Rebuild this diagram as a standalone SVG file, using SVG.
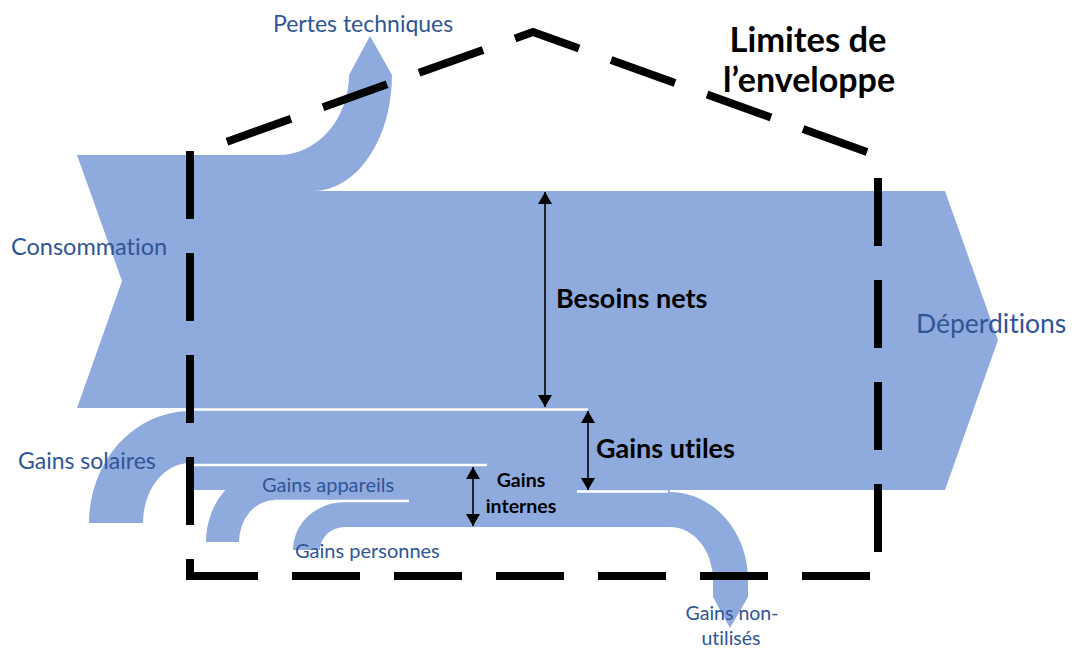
<svg xmlns="http://www.w3.org/2000/svg" width="1074" height="649" viewBox="0 0 1074 649">
  <style>
    .flow { fill: #8FAADC; }
    .gap { stroke: #FFFFFF; stroke-width: 2.5; fill: none; }
    .wall { stroke: #000000; stroke-width: 8; fill: none; stroke-dasharray: 68 34; }
    .dim { stroke: #000000; stroke-width: 1.6; fill: none; marker-start: url(#tip); marker-end: url(#tip); }
    text { font-variant-ligatures: none; }
    .lbl { font-family: Lato, "Open Sans", sans-serif; fill: #2F5597; }
    .key { font-family: Lato, "Open Sans", sans-serif; font-weight: bold; fill: #000000; }
  </style>
  <defs>
    <marker id="tip" viewBox="0 0 12 14" refX="12" refY="7" markerWidth="12" markerHeight="14" markerUnits="userSpaceOnUse" orient="auto-start-reverse">
      <path d="M0,0 L12,7 L0,14 Z" fill="#000000"/>
    </marker>
  </defs>
  <rect width="1074" height="649" fill="#FFFFFF"/>

  <!-- energy flows -->
  <g id="consommation">
    <path class="flow" d="M77,155 H290 V191 H945 L998,340 L945,490 H190 V408 H77 L122,281 Z"/>
    <text class="lbl" x="11" y="255" font-size="23.5">Consommation</text>
  </g>
  <g id="pertes-techniques">
    <path class="flow" d="M278,155 A71,80 0 0 0 349,75 L370,36 L392,75 A79,116 0 0 1 313,191 H278 Z"/>
    <text class="lbl" x="273" y="32" font-size="23">Pertes techniques</text>
  </g>
  <g id="gains-solaires">
    <path class="flow" d="M196,411 V463 H190 A47,60 0 0 0 143,523 H89 A101,112 0 0 1 190,411 Z"/>
    <text class="lbl" x="18" y="469" font-size="23">Gains solaires</text>
  </g>
  <g id="gains-internes">
    <path class="flow" d="M275,467 H670 V527 H345 V500 H275 Z"/>
  </g>
  <g id="gains-appareils">
    <path class="flow" d="M300,467 H275 A69,75 0 0 0 206,542 H239 A36,42 0 0 1 275,500 H300 Z"/>
    <text class="lbl" x="262" y="492" font-size="20">Gains appareils</text>
  </g>
  <g id="gains-personnes">
    <path class="flow" d="M360,502 H345 A52,48 0 0 0 293,550 H320 A25,23 0 0 1 345,527 H360 Z"/>
  </g>
  <g id="gains-non-utilises">
    <path class="flow" d="M600,492 H670 A78,88 0 0 1 748,580 V597 L730,628 L713,597 V580 A43,53 0 0 0 670,527 H600 Z"/>
  </g>

  <!-- separations between the flows -->
  <g id="separations">
    <path class="gap" d="M186,409.5 H588"/>
    <path class="gap" d="M190,465 H487"/>
    <path class="gap" d="M275,501 H409"/>
    <path class="gap" d="M577,491.5 H668"/>
  </g>

  <!-- building envelope -->
  <g id="enveloppe">
    <path class="wall" d="M227,141.7 L533,32 L878,156"/>
    <path class="wall" d="M190,151 V580"/>
    <path class="wall" d="M190,576 H870"/>
    <path class="wall" d="M878,178 V552"/>
    <text class="key" x="808" y="52" font-size="34.5" text-anchor="middle">Limites de</text>
    <text class="key" x="809" y="92" font-size="34" text-anchor="middle">l’enveloppe</text>
  </g>

  <!-- dimension arrows -->
  <g id="connectors">
    <line class="dim" x1="545" y1="192" x2="545" y2="407"/>
    <line class="dim" x1="588" y1="411" x2="588" y2="490"/>
    <line class="dim" x1="473" y1="467" x2="473" y2="526"/>
  </g>

  <g id="besoins-nets">
    <text class="key" x="556" y="308" font-size="27">Besoins nets</text>
  </g>
  <g id="gains-utiles">
    <text class="key" x="596" y="458" font-size="27">Gains utiles</text>
  </g>
  <g id="gains-internes-label">
    <text class="key" x="521" y="487" font-size="19.5" text-anchor="middle">Gains</text>
    <text class="key" x="521" y="513" font-size="19.5" text-anchor="middle">internes</text>
  </g>
  <g id="deperditions">
    <text class="lbl" x="916" y="333" font-size="26.5">Déperditions</text>
  </g>
  <g id="labels-bas">
    <text class="lbl" x="295" y="558" font-size="20">Gains personnes</text>
    <text class="lbl" x="732" y="620" font-size="19.5" text-anchor="middle">Gains non-</text>
    <text class="lbl" x="731" y="645" font-size="19.5" text-anchor="middle">utilisés</text>
  </g>
</svg>
